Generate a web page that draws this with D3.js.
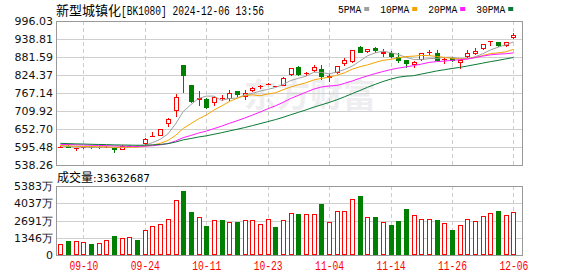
<!DOCTYPE html>
<html><head><meta charset="utf-8">
<script src="https://cdn.jsdelivr.net/npm/d3@7/dist/d3.min.js"></script>
<style>
html,body{margin:0;padding:0;background:#fff;}
svg{display:block;}
</style>
</head><body>
<svg id="c" width="578" height="276"></svg>
<script>
const dates = ['09-05','09-06','09-09','09-10','09-11','09-12','09-13','09-18','09-19','09-20','09-23','09-24','09-25','09-26','09-27','09-30','10-08','10-09','10-10','10-11','10-14','10-15','10-16','10-17','10-18','10-21','10-22','10-23','10-24','10-25','10-28','10-29','10-30','10-31','11-01','11-04','11-05','11-06','11-07','11-08','11-11','11-12','11-13','11-14','11-15','11-18','11-19','11-20','11-21','11-22','11-25','11-26','11-27','11-28','11-29','12-02','12-03','12-04','12-05','12-06'];
const open = [594,600,590,592,597,593,595,591,587,597,
  600,605,627,631,666,711,855,791,746,749,
  738,752,749,772,754,773,784,794,788,791,
  823,850,828,837,842,815,829,858,866,914,
  897,910,893,893,880,871,859,871,895,893,
  872,878,861,880,891,906,927,929,914,941];
const close = [597,594,592,595,593,596,597,586,600,599,
  597,621,630,653,683,756,820,738,752,720,
  756,752,768,759,767,783,788,796,788,816,
  846,823,830,850,815,821,852,871,903,895,
  906,899,898,880,866,859,867,893,897,869,
  876,870,871,893,902,922,931,916,928,951];
const high = [598,601,593,597,598,598,599,592,601,602,
  601,623,644,654,688,763,857,793,775,751,
  758,761,778,775,777,786,791,800,790,818,
  848,854,835,855,856,829,853,877,905,918,
  907,914,906,900,893,872,868,895,903,903,
  877,880,872,903,910,923,932,930,929,957];
const low = [592,592,584,588,590,590,592,577,586,595,
  595,603,626,630,658,692,767,735,727,716,
  727,742,741,756,745,770,780,791,786,789,
  820,821,822,835,807,802,827,852,864,893,
  895,893,882,878,864,848,848,869,889,868,
  858,866,842,878,889,904,916,914,912,939];
// volume in 万 shares
const volume = [878,1057,1111,1033,878,955,1188,1499,1344,1421,
  1134,1965,2276,2431,2820,4296,4995,3387,2975,2299,
  2742,2742,2587,2587,2742,2742,2431,2794,2198,2742,
  3310,3232,3206,3206,4012,2587,3440,3440,4374,4633,
  2950,2950,2587,2354,2664,3596,3107,2794,2794,2742,
  2509,1965,2330,2794,2638,3029,3287,3440,3107,3363];
// estimated closes of the 29 sessions before 09-05 (needed for the moving averages)
const closesBefore = [618,615,612,616,614,610,612,611,613,610,
  609,607,610,608,606,609,608,607,609,607,
  604,602,601,600,599,602,600,597,598];
const priceTicks = [538.26,595.48,652.70,709.92,767.14,824.37,881.59,938.81,996.03];
const volTicks = [0,1346,2691,4037,5383];
const volTickLabels = ['0','1346万','2691万','4037万','5383万'];
const dateTicks = ['09-10','09-24','10-11','10-23','11-04','11-14','11-26','12-06'];
const maPeriods = [5,10,20,30];
const maNames = ['5PMA','10PMA','20PMA','30PMA'];
const maColors = ['#a0a0a0','#f5a300','#ff1aff','#0a7a36'];
const title = '新型城镇化';
const titleCode = '[BK1080] 2024-12-06 13:56';
const volTitle = '成交量';
const volValue = ':33632687';

const svg = d3.select('#c');
const L = 56, R = 522, T = 21, B = 165, VT = 186, VB = 255;
const RED = '#ff0000', GREEN = '#008000';
const MONO = '"Liberation Mono", "DejaVu Sans Mono", monospace';
const CJK = '"Noto Sans CJK SC", sans-serif';
const SANS = '"DejaVu Sans", sans-serif';

const x = d3.scaleBand().domain(dates).range([56.5, 56.5 + 7.679 * 60]).padding(0);
const cx = d => x(d) + x.bandwidth() / 2;
const y = d3.scaleLinear().domain([538.26, 996.03]).range([B, T]);
const yv = d3.scaleLinear().domain([0, 5383]).range([VB, VT]);

// watermark
svg.append('text').attr('x', 310).attr('y', 107).attr('text-anchor', 'middle')
  .attr('font-family', CJK).attr('font-weight', 700).attr('font-size', 33)
  .attr('fill', '#eeeef1').text('东方财富');

// grids
const gMain = svg.append('g');
priceTicks.slice(1, -1).forEach(v => {
  const yy = Math.round(y(v)) + 0.5;
  gMain.append('line').attr('x1', L).attr('x2', R).attr('y1', yy).attr('y2', yy)
    .attr('stroke', '#cfcfcf');
});
volTicks.slice(1, -1).forEach(v => {
  const yy = Math.round(yv(v)) + 0.5;
  gMain.append('line').attr('x1', L).attr('x2', R).attr('y1', yy).attr('y2', yy)
    .attr('stroke', '#cfcfcf');
});
dateTicks.forEach(d => {
  const xx = Math.round(cx(d)) + 0.5;
  [[T, B], [VT, VB]].forEach(([a, b]) => {
    gMain.append('line').attr('x1', xx).attr('x2', xx).attr('y1', a).attr('y2', b)
      .attr('stroke', '#cccccc').attr('stroke-dasharray', '4,3');
  });
});

// panel borders
[[T, B], [VT, VB]].forEach(([a, b]) => {
  svg.append('rect').attr('x', L + 0.5).attr('y', a + 0.5).attr('width', R - L)
    .attr('height', b - a).attr('fill', 'none').attr('stroke', '#999999');
});

// candles
const isUp = i => close[i] > open[i] || (close[i] === open[i] && (i === 0 || close[i] >= close[i - 1]));
const gC = svg.append('g');
dates.forEach((d, i) => {
  const c = Math.round(cx(d));
  const flatCandle = close[i] === open[i];
  const up = close[i] > open[i] || flatCandle;
  const col = up ? RED : GREEN;
  const yo = y(open[i]), yc = y(close[i]);
  const top = Math.round(Math.min(yo, yc));
  const h = Math.round(Math.abs(yo - yc));
  const yh = Math.round(y(high[i])), yl = Math.round(y(low[i]));
  if (up && h >= 2) {
    gC.append('line').attr('x1', c + 0.5).attr('x2', c + 0.5).attr('y1', yh).attr('y2', top).attr('stroke', col);
    gC.append('line').attr('x1', c + 0.5).attr('x2', c + 0.5).attr('y1', top + h).attr('y2', yl).attr('stroke', col);
    gC.append('rect').attr('x', c - 2 + 0.5).attr('y', top + 0.5).attr('width', 4).attr('height', h - 1)
      .attr('fill', '#fff').attr('stroke', col);
  } else {
    gC.append('line').attr('x1', c + 0.5).attr('x2', c + 0.5).attr('y1', yh).attr('y2', yl).attr('stroke', col);
    gC.append('rect').attr('x', c - 2).attr('y', top).attr('width', 5).attr('height', Math.max(1, h))
      .attr('fill', col);
  }
});

// moving averages
const allCloses = closesBefore.concat(close);
const off = closesBefore.length;
maPeriods.forEach((p, k) => {
  const pts = dates.map((d, i) => {
    const s = allCloses.slice(off + i - p + 1, off + i + 1);
    return [cx(d), y(d3.mean(s))];
  });
  svg.append('path').attr('d', d3.line()(pts)).attr('fill', 'none')
    .attr('stroke', maColors[k]).attr('stroke-width', 1);
});

// volume bars
const gV = svg.append('g');
dates.forEach((d, i) => {
  const c = Math.round(cx(d));
  const up = isUp(i);
  const top = Math.round(yv(volume[i]));
  const h = VB - top;
  if (up) {
    gV.append('rect').attr('x', c - 2 + 0.5).attr('y', top + 0.5).attr('width', 4).attr('height', h - 1)
      .attr('fill', '#fff').attr('stroke', RED);
  } else {
    gV.append('rect').attr('x', c - 2).attr('y', top).attr('width', 5).attr('height', h).attr('fill', GREEN);
  }
});

// axes
const ax = svg.append('g').attr('transform', `translate(${L - 2},0)`)
  .call(d3.axisLeft(y).tickValues(priceTicks).tickSize(0).tickPadding(1).tickFormat(d => d.toFixed(2)));
ax.select('.domain').remove();
ax.selectAll('text').attr('font-family', SANS).attr('font-size', 11).attr('fill', '#111');

const axv = svg.append('g').attr('transform', `translate(${L - 2},0)`)
  .call(d3.axisLeft(yv).tickValues(volTicks).tickSize(0).tickPadding(1)
    .tickFormat((d, i) => volTickLabels[i]));
axv.select('.domain').remove();
axv.selectAll('text').attr('font-family', SANS).attr('font-size', 11).attr('fill', '#111');

const axx = svg.append('g').attr('transform', `translate(0.5,${VB})`)
  .call(d3.axisBottom(x).tickValues(dateTicks).tickSize(0).tickPadding(6));
axx.select('.domain').remove();
axx.selectAll('text').attr('font-family', MONO).attr('font-size', 12).attr('fill', RED)
  .attr('textLength', 29).attr('lengthAdjust', 'spacingAndGlyphs');

// title
const tt = svg.append('text').attr('x', 56).attr('y', 15).attr('fill', '#000');
tt.append('tspan').attr('font-family', CJK).attr('font-size', 13).text(title);
tt.append('tspan').attr('font-family', MONO).attr('font-size', 12)
  .attr('textLength', 143).attr('lengthAdjust', 'spacingAndGlyphs').text(titleCode);

// legend
let lx = 338;
maNames.forEach((n, k) => {
  const w = n.length * 5.8;
  svg.append('text').attr('x', lx).attr('y', 13).attr('font-family', MONO).attr('font-size', 11)
    .attr('textLength', w).attr('lengthAdjust', 'spacingAndGlyphs').attr('fill', '#000').text(n);
  svg.append('rect').attr('x', lx + w + 3).attr('y', 7).attr('width', 5).attr('height', 4)
    .attr('fill', maColors[k]);
  lx += w + 19;
});

// volume title
const vt = svg.append('text').attr('x', 57).attr('y', 182).attr('fill', '#000');
vt.append('tspan').attr('font-family', CJK).attr('font-size', 12).text(volTitle);
vt.append('tspan').attr('font-family', SANS).attr('font-size', 10.5).text(volValue);
</script>
</body></html>
